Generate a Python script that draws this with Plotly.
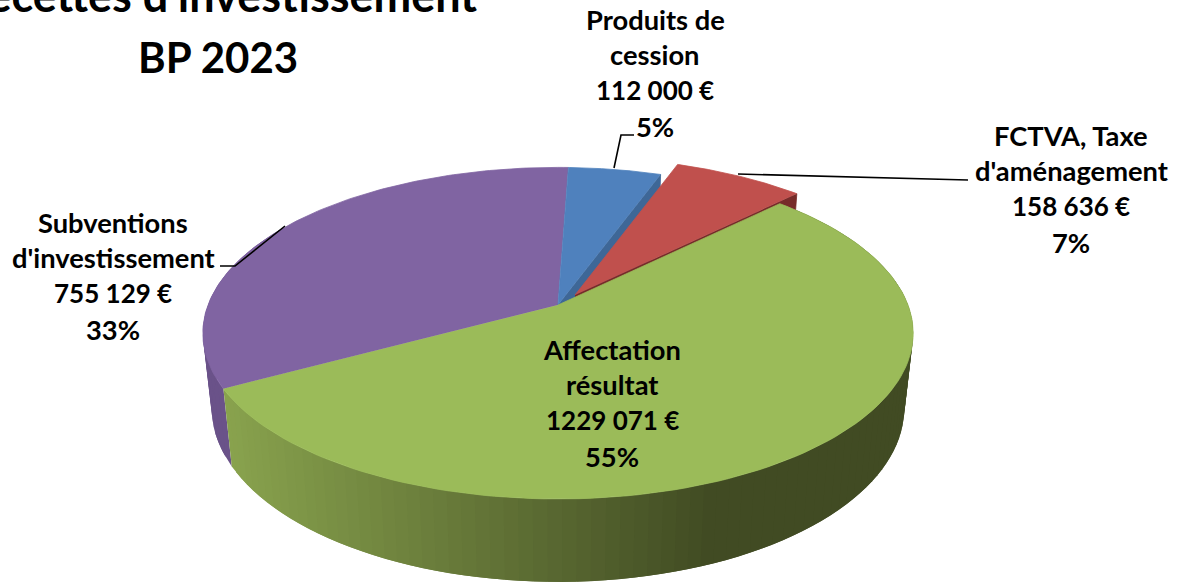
import numpy as np
import plotly.graph_objects as go

# ---- data ----
categories = ["Produits de cession", "FCTVA, Taxe d'aménagement", "Affectation résultat", "Subventions d'investissement"]
values = [112000, 158636, 1229071, 755129]
top_colors = ["#4f81bd", "#c0504d", "#9bbb59", "#8064a2"]
label_lines = [
    ["Produits de", "cession", "112 000 €", "5%"],
    ["FCTVA, Taxe", "d'aménagement", "158 636 €", "7%"],
    ["Affectation", "résultat", "1229 071 €", "55%"],
    ["Subventions", "d'investissement", "755 129 €", "33%"],
]
title_lines = ["Recettes d'investissement", "BP 2023"]

# ---- geometry of the perspective pie ----
W, H = 1183, 583
CX, CY = 558, 305
R, B, K = 350, 161, 0.17
START = 2.0
EXPLODE = {1: (17, -10)}
FONT = "Lato"


def top(a, off=(0, 0)):
    t = np.radians(90 - np.asarray(a, dtype=float))
    d = 1 + K * np.sin(t)
    return CX + R * np.cos(t) / d + off[0], CY - B * np.sin(t) / d + off[1]


def base(x, y, off=(0, 0)):
    xb = CX + off[0] + (x - CX - off[0]) * 0.975
    yb = y + 75 + 8 * np.clip((y - 333) / 167, 0, 1)
    return xb, yb


def poly(x, y, color, name, edge=0.8):
    return go.Scatter(x=list(x), y=list(y), mode="lines", fill="toself", fillcolor=color,
                      line=dict(color=color, width=edge), hoverinfo="skip", name=name, showlegend=False)


def mix(c1, c2, f):
    return "rgb(%d,%d,%d)" % tuple(c1[i] + (c2[i] - c1[i]) * f for i in range(3))


def wall(a_from, a_to, step, color_of, name):
    """Outer wall as overlapping strips, each one painted over by the next."""
    stops = np.r_[np.arange(a_from, a_to, step), a_to]
    for j in range(len(stops) - 1):
        a0 = stops[j]
        a1 = stops[min(j + 2, len(stops) - 1)]
        a = np.linspace(a0, a1, 5)
        x, y = top(a)
        xb, yb = base(x, y)
        fig.add_trace(poly(np.r_[x, xb[::-1]], np.r_[y, yb[::-1]], color_of(x[:3].mean()), name, 0))


total = sum(values)
edges = START + np.concatenate([[0], np.cumsum(values)]) / total * 360
fig = go.Figure()

# purple outer wall (only the visible front-left part needs drawing)
wall(edges[3], edges[3] + 60, 3, lambda xm: "#6a5289", categories[3])

# green outer wall, shaded along x
GL, GD = (137, 163, 78), (65, 75, 35)
wall(edges[3], edges[2], -2, lambda xm: mix(GL, GD, min(1, max(0, (xm - 225) / (715 - 225)))), categories[2])


def cut_face(angle, color, name, off=(0, 0)):
    x, y = top(angle, off)
    ax, ay = CX + off[0], CY + off[1]
    xb, yb = base(x, y, off)
    abx, aby = base(ax, ay, off)
    return poly([ax, x, xb, abx], [ay, y, yb, aby], color, name)


def top_face(i):
    off = EXPLODE.get(i, (0, 0))
    a = np.linspace(edges[i], edges[i + 1], 120)
    x, y = top(a, off)
    return poly(np.r_[CX + off[0], x], np.r_[CY + off[1], y], top_colors[i], categories[i])


fig.add_trace(top_face(3))
fig.add_trace(cut_face(edges[1], "#3e6797", categories[0]))
fig.add_trace(top_face(0))
fig.add_trace(cut_face(edges[2], "#772c2a", categories[1], EXPLODE[1]))
fig.add_trace(top_face(1))
fig.add_trace(top_face(2))

# leader lines
leaders = [
    ([614, 621, 634], [168, 135, 135]),
    ([738, 968], [174, 180]),
    ([285, 235, 220], [226, 266, 266]),
]
for lx, ly in leaders:
    fig.add_trace(go.Scatter(x=lx, y=ly, mode="lines", line=dict(color="black", width=1.6),
                             hoverinfo="skip", showlegend=False))

annotations = []


def text(s, x, y, size, anchor="middle"):
    annotations.append(dict(text="<b>%s</b>" % s, x=x, y=y, xref="x", yref="y", showarrow=False,
                            xanchor="center", yanchor=anchor, align="center",
                            font=dict(family=FONT, size=size, color="black")))


placements = [(655, 19), (1071, 135), (612, 349), (113, 222)]
for lines, (lx, ly) in zip(label_lines, placements):
    for j, s in enumerate(lines):
        text(s, lx, ly + j * 35.7, 26 if "€" in s else 27.3)

text(title_lines[0], 218, 24, 45, "bottom")
text(title_lines[1], 218, 57, 42)

fig.update_layout(
    width=W, height=H, margin=dict(l=0, r=0, t=0, b=0),
    paper_bgcolor="white", plot_bgcolor="white", showlegend=False,
    xaxis=dict(range=[0, W], visible=False, fixedrange=True),
    yaxis=dict(range=[H, 0], visible=False, fixedrange=True),
    annotations=annotations,
)
fig.write_html(
    "out.html",
    post_script="document.body.style.margin='0';"
                "var s=document.createElement('style');"
                "s.textContent='text{font-variant-ligatures:none}';document.head.appendChild(s);",
    config={"displayModeBar": False},
)
